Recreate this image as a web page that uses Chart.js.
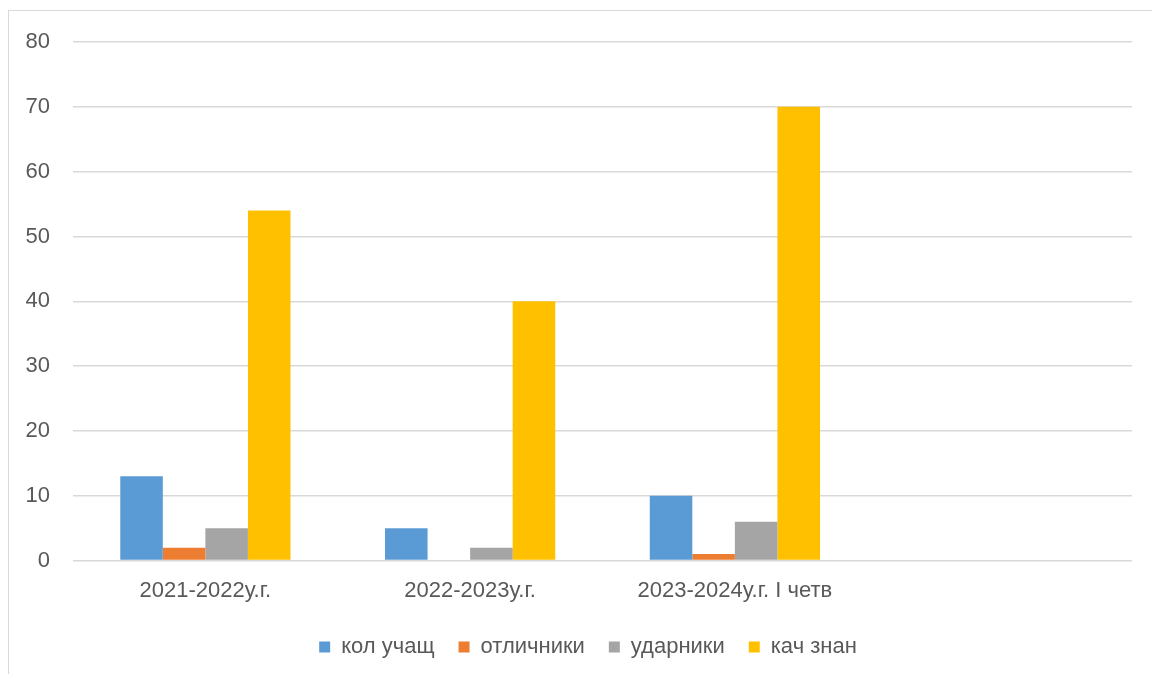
<!DOCTYPE html>
<html>
<head>
<meta charset="utf-8">
<script src="https://cdn.jsdelivr.net/npm/chart.js@4/dist/chart.umd.min.js"></script>
<style>
  html, body { margin: 0; padding: 0; background: #fff; overflow: hidden; }
  #frame { position: absolute; left: 8px; top: 10px; width: 1200px; height: 700px; border: 1px solid #d9d9d9; box-sizing: border-box; }
  #wrap { position: absolute; left: 0; top: 0; width: 1152px; height: 674px; }
</style>
</head>
<body>
<div id="frame"></div>
<div id="wrap"><canvas id="c" width="1152" height="674"></canvas></div>
<script>
const categories = ["2021-2022у.г.", "2022-2023у.г.", "2023-2024у.г. I четв", ""];
const seriesNames = ["кол учащ", "отличники", "ударники", "кач знан"];
const kolUchasch = [13, 5, 10, null];
const otlichniki = [2, 0, 1, null];
const udarniki = [5, 2, 6, null];
const kachZnan = [54, 40, 70, null];
const yTicks = [0, 10, 20, 30, 40, 50, 60, 70, 80];
const colors = ["#5B9BD5", "#ED7D31", "#A5A5A5", "#FFC000"];

const series = [kolUchasch, otlichniki, udarniki, kachZnan];
const FONT = "'Liberation Sans', 'Open Sans', sans-serif";

const legendShift = {
  id: 'legendShift',
  afterLayout(chart) {
    if (chart.legend) { chart.legend.left += 22; chart.legend.right += 22; }
  }
};

new Chart(document.getElementById('c'), {
  type: 'bar',
  data: {
    labels: categories,
    datasets: series.map((d, i) => ({
      label: seriesNames[i],
      data: d,
      backgroundColor: colors[i],
      borderWidth: 0,
      barPercentage: 1.0,
      categoryPercentage: 0.643
    }))
  },
  plugins: [legendShift],
  options: {
    responsive: false,
    animation: false,
    devicePixelRatio: 1,
    layout: { padding: { left: 0, right: 20, top: 42, bottom: 6 } },
    plugins: {
      legend: {
        position: 'bottom',
        labels: {
          color: '#595959',
          font: { family: FONT, size: 22 },
          boxWidth: 11,
          boxHeight: 11,
          padding: 24
        }
      },
      tooltip: { enabled: false }
    },
    scales: {
      x: {
        afterFit: s => { s.height -= 9; },
        grid: { display: false, drawTicks: false },
        border: { display: false },
        ticks: { color: '#595959', font: { family: FONT, size: 22 }, padding: 17, maxRotation: 0, autoSkip: false }
      },
      y: {
        min: 0, max: 80,
        afterFit: s => { s.width = 73; },
        afterBuildTicks: s => { s.ticks = yTicks.map(v => ({ value: v })); },
        grid: { color: '#d9d9d9', lineWidth: 1.5, drawTicks: false },
        border: { display: false },
        ticks: { color: '#595959', font: { family: FONT, size: 22 }, padding: 23 }
      }
    }
  }
});
</script>
</body>
</html>
